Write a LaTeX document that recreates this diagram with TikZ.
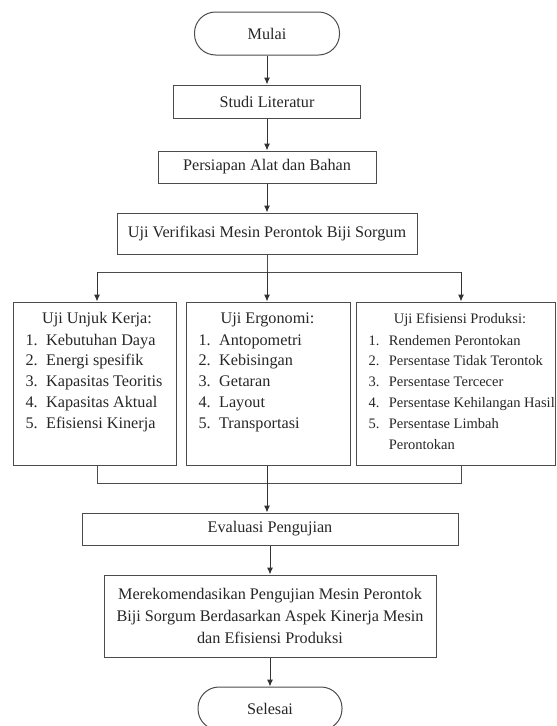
\documentclass[tikz,border=0pt]{standalone}
\usepackage{fontspec}
\setmainfont{Liberation Serif}
\usetikzlibrary{arrows.meta}

\begin{document}
\begin{tikzpicture}[
        x=1pt, y=-1pt,
        line width=1pt,
        font=\fontsize{16.2}{20.8}\selectfont
    ]
    \tikzset{
        termnode/.style = {draw=black!70, rounded corners=21pt, minimum width=145pt, minimum height=43pt, text=black!85},
        procnode/.style = {draw=black!70, minimum height=33pt, text=black!85},
        listbox/.style = {draw=black!70, minimum height=163pt},
        listtitle/.style = {text=black!85},
        listtext/.style = {inner sep=0pt, anchor=north west, text=black!85},
        smallfont/.style = {font=\fontsize{14.5}{20.8}\selectfont},
        myarrow/.style = {-{Latex[length=7pt,width=6pt]}, draw=black!80},
        myline/.style = {-, draw=black!70},
    }
        \useasboundingbox (0,0) rectangle (557,726);
        \node[termnode] at (267,33.5) (mulai) {Mulai};
        \node[procnode, minimum width=187pt] at (267,101.5) (studi) {Studi Literatur};
        \node[procnode, minimum width=218pt, minimum height=32pt] at (267,167) (persiapan) {Persiapan Alat dan Bahan};
        \node[procnode, minimum width=300pt, minimum height=41pt] at (267,233.5) (verifikasi) {Uji Verifikasi Mesin Perontok Biji Sorgum};
        %
        \node[listbox, minimum width=163pt] at (94.5,383.5) (kinerja) {};
        \node[listbox, minimum width=164pt] at (268,383.5) (ergonomi) {};
        \node[listbox, minimum width=199pt] at (455.5,383.5) (efisiensi) {};
        \node[listtitle] at (97,320) (kinerjajudul) {Uji Unjuk Kerja:};
        \node[listtitle] at (267.5,320) (ergonomijudul) {Uji Ergonomi:};
        \node[listtitle, smallfont] at (460,320) (efisiensijudul) {Uji Efisiensi Produksi:};
        \node[listtext] at (25,330) (kinerjaisi) {\begin{tabular}{@{}l@{\hspace{8.5pt}}l@{}}
            1. & Kebutuhan Daya\\
            2. & Energi spesifik\\
            3. & Kapasitas Teoritis\\
            4. & Kapasitas Aktual\\
            5. & Efisiensi Kinerja
        \end{tabular}};
        \node[listtext] at (198,330) (ergonomiisi) {\begin{tabular}{@{}l@{\hspace{8.5pt}}l@{}}
            1. & Antopometri\\
            2. & Kebisingan\\
            3. & Getaran\\
            4. & Layout\\
            5. & Transportasi
        \end{tabular}};
        \node[listtext, smallfont] at (368,330) (efisiensiisi) {\begin{tabular}{@{}l@{\hspace{9.5pt}}l@{}}
            1. & Rendemen Perontokan\\
            2. & Persentase Tidak Terontok\\
            3. & Persentase Tercecer\\
            4. & Persentase Kehilangan Hasil\\
            5. & Persentase Limbah\\
               & Perontokan
        \end{tabular}};
        %
        \node[procnode, minimum width=376pt, minimum height=32pt] at (270,529) (evaluasi) {Evaluasi Pengujian};
        \node[procnode, minimum width=332pt, minimum height=82pt, align=center, font=\fontsize{16.2}{21.7}\selectfont] at (270,616) (rekomendasi) {Merekomendasikan Pengujian Mesin Perontok\\Biji Sorgum Berdasarkan Aspek Kinerja Mesin\\dan Efisiensi Produksi};
        \node[termnode, minimum width=144pt] at (270,708.5) (selesai) {Selesai};
        %
        \coordinate (bl) at (97,272);
        \coordinate (bm) at (267,272);
        \coordinate (br) at (461,272);
        \coordinate (ml) at (97,483);
        \coordinate (mm) at (267,483);
        \coordinate (mr) at (461,483);
        %
        \draw[myarrow] (mulai) -- (studi);
        \draw[myarrow] (studi) -- (persiapan);
        \draw[myarrow] (persiapan) -- (verifikasi);
        \draw[myline] (verifikasi) -- (bm);
        \draw[myline] (bl) -- (br);
        \draw[myarrow] (bl) -- (bl |- kinerja.north);
        \draw[myarrow] (bm) -- (bm |- ergonomi.north);
        \draw[myarrow] (br) -- (br |- efisiensi.north);
        %
        \draw[myline] (bl |- kinerja.south) -- (ml) -- (mr) -- (br |- efisiensi.south);
        \draw[myarrow] (bm |- ergonomi.south) -- (mm |- evaluasi.north);
        \draw[myarrow] (evaluasi) -- (rekomendasi);
        \draw[myarrow] (rekomendasi) -- (selesai);
    \end{tikzpicture}
\end{document}
